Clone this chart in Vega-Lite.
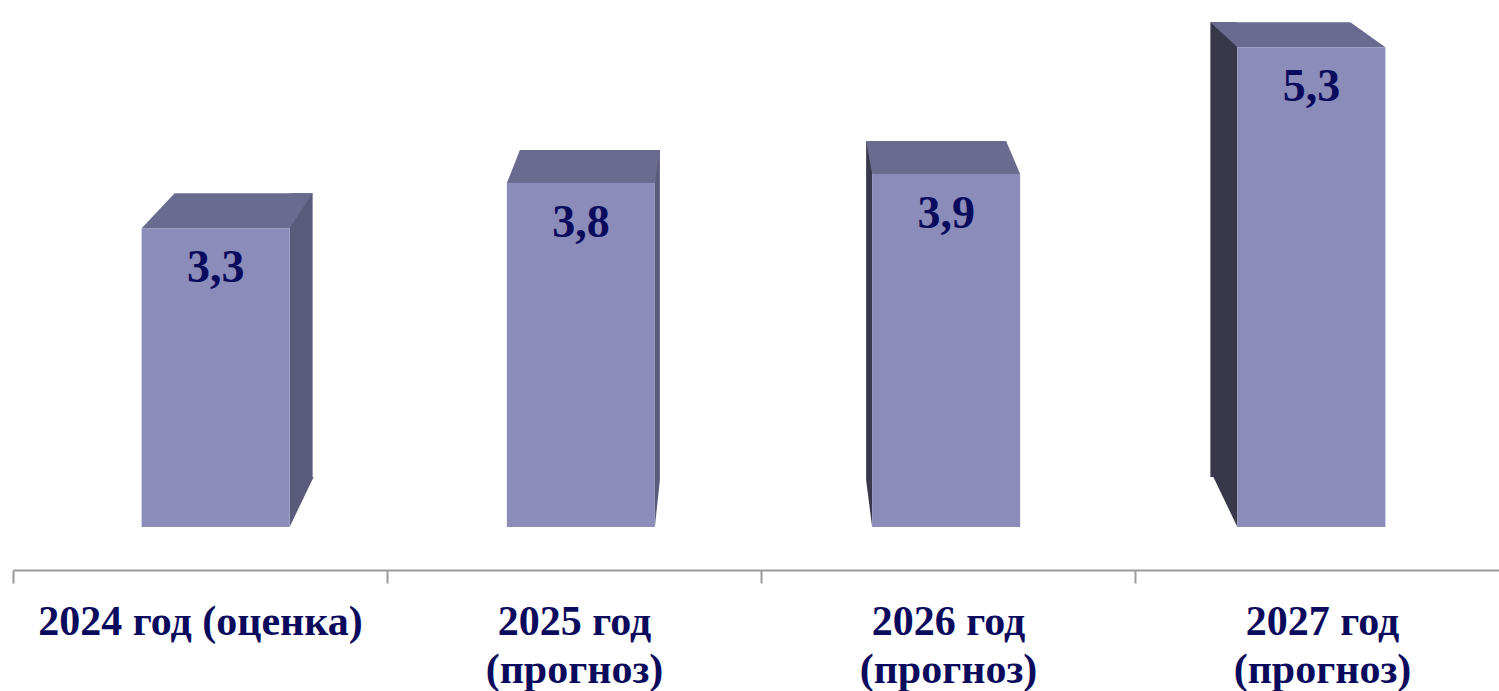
{
  "$schema": "https://vega.github.io/schema/vega-lite/v6.json",
  "description": "3D-style bar chart, 2024-2027",
  "width": 1486,
  "height": 570,
  "autosize": {"type": "none"},
  "padding": {"left": 13, "top": 0, "right": 0, "bottom": 121},
  "background": "white",
  "config": {
    "view": {"stroke": null},
    "locale": {
      "number": {"decimal": ",", "thousands": " ", "grouping": [3], "currency": ["", " ₽"]}
    }
  },
  "data": {
    "values": [
      {"year": "2024 год (оценка)", "value": 3.3},
      {"year": "2025 год (прогноз)", "value": 3.8},
      {"year": "2026 год (прогноз)", "value": 3.9},
      {"year": "2027 год (прогноз)", "value": 5.3}
    ]
  },
  "encoding": {
    "x": {
      "field": "year",
      "type": "nominal",
      "sort": null,
      "scale": {
        "domain": ["2024 год (оценка)", "2025 год (прогноз)", "2026 год (прогноз)", "2027 год (прогноз)"],
        "range": [20, 1481],
        "paddingInner": 0,
        "paddingOuter": 0
      },
      "axis": null
    },
    "y": {
      "field": "value",
      "type": "quantitative",
      "scale": {"domain": [-0.4751, 5.8232], "nice": false, "zero": false},
      "axis": null
    }
  },
  "layer": [
    {
      "mark": {"type": "bar", "opacity": 0},
      "encoding": {
        "x": {
          "field": "year",
          "type": "nominal",
          "sort": null,
          "scale": {
            "domain": ["2024 год (оценка)", "2025 год (прогноз)", "2026 год (прогноз)", "2027 год (прогноз)"],
            "range": [0, 1496],
            "paddingInner": 0,
            "paddingOuter": 0
          },
          "axis": {
            "title": null,
            "labelAngle": 0,
            "labelFont": "Liberation Serif",
            "labelFontSize": 42,
            "labelFontWeight": "bold",
            "labelColor": "#0b0b5e",
            "labelPadding": 18,
            "labelLineHeight": 48,
            "labelLimit": 600,
            "labelOverlap": false,
            "labelBound": false,
            "labelExpr": "indexof(datum.label, 'оценка') >= 0 ? datum.label : split(replace(datum.label, ' (', '|('), '|')",
            "tickBand": "extent",
            "tickSize": 13,
            "tickWidth": 2,
            "tickColor": "#9a9a9a",
            "domainColor": "#9a9a9a",
            "domainWidth": 2
          }
        },
        "y2": {"datum": 0}
      }
    },
    {
      "transform": [{"filter": "indexof(datum.year, '2024') >= 0"}],
      "mark": {"type": "bar", "width": 23, "xOffset": 85.5, "yOffset": -35, "y2Offset": -50, "color": "#5a5a7a"},
      "encoding": {"y2": {"datum": 0}}
    },
    {
      "transform": [{"filter": "indexof(datum.year, '2025') >= 0"}],
      "mark": {"type": "bar", "width": 5, "xOffset": 76.5, "yOffset": -33, "y2Offset": -47, "color": "#5a5a7a"},
      "encoding": {"y2": {"datum": 0}}
    },
    {
      "transform": [{"filter": "indexof(datum.year, '2026') >= 0"}],
      "mark": {"type": "bar", "width": 6, "xOffset": -77, "yOffset": -33, "y2Offset": -47, "color": "#38384a"},
      "encoding": {"y2": {"datum": 0}}
    },
    {
      "transform": [{"filter": "indexof(datum.year, '2027') >= 0"}],
      "mark": {"type": "bar", "width": 27, "xOffset": -87.5, "yOffset": -25, "y2Offset": -50, "color": "#38384a"},
      "encoding": {"y2": {"datum": 0}}
    },
    {
      "mark": {"type": "point", "filled": true, "size": 40000, "opacity": 1, "strokeWidth": 0},
      "encoding": {
        "y": {"datum": 0},
        "shape": {
          "field": "year",
          "type": "nominal",
          "legend": null,
          "scale": {
            "domain": ["2024 год (оценка)", "2025 год (прогноз)", "2026 год (прогноз)", "2027 год (прогноз)"],
            "range": [
              "M 0.74 0 L 0.74 -0.5 L 0.98 -0.5 Z",
              "M 0.74 0 L 0.74 -0.47 L 0.79 -0.47 Z",
              "M -0.74 0 L -0.74 -0.47 L -0.8 -0.47 Z",
              "M -0.74 0 L -0.74 -0.5 L -0.98 -0.5 Z"
            ]
          }
        },
        "color": {
          "field": "year",
          "type": "nominal",
          "legend": null,
          "scale": {
            "domain": ["2024 год (оценка)", "2025 год (прогноз)", "2026 год (прогноз)", "2027 год (прогноз)"],
            "range": ["#5a5a7a", "#5a5a7a", "#38384a", "#38384a"]
          }
        }
      }
    },
    {
      "mark": {"type": "point", "filled": true, "size": 40000, "opacity": 1, "strokeWidth": 0, "color": "#6b6b8f"},
      "encoding": {
        "shape": {
          "field": "year",
          "type": "nominal",
          "legend": null,
          "scale": {
            "domain": ["2024 год (оценка)", "2025 год (прогноз)", "2026 год (прогноз)", "2027 год (прогноз)"],
            "range": [
              "M -0.74 0 L 0.74 0 L 0.97 -0.35 L -0.41 -0.35 Z",
              "M -0.74 0 L 0.74 0 L 0.79 -0.33 L -0.61 -0.33 Z",
              "M -0.74 0 L 0.74 0 L 0.6 -0.33 L -0.8 -0.33 Z",
              "M -0.74 0 L 0.74 0 L 0.39 -0.25 L -1.01 -0.25 Z"
            ]
          }
        }
      }
    },
    {
      "mark": {"type": "bar", "width": 148, "color": "#8b8cba"},
      "encoding": {"y2": {"datum": 0}}
    },
    {
      "mark": {
        "type": "text",
        "baseline": "alphabetic",
        "dy": 54,
        "font": "Liberation Serif",
        "fontSize": 46,
        "fontWeight": "bold",
        "color": "#0b0b5e"
      },
      "encoding": {
        "text": {"field": "value", "type": "quantitative", "format": ".1f"}
      }
    }
  ],
  "resolve": {"scale": {"x": "independent", "shape": "independent", "color": "independent"}}
}
